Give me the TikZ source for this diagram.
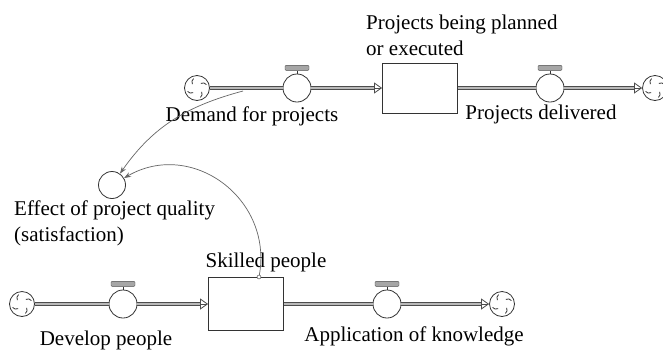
\documentclass[tikz,border=0pt]{standalone}
\usepackage{fontspec}
\setmainfont{Liberation Serif}
\usepackage{tikz}
\usetikzlibrary{arrows.meta,positioning}
\tikzstyle{stockbox} = [draw=black!80, fill=white, thick,
    rectangle, minimum width=75pt, minimum height=50pt, inner sep=0pt]
\tikzstyle{valve} = [draw=black!80, fill=white, thick, circle, minimum size=28pt, inner sep=0pt]
\tikzstyle{valvebar} = [draw=black!70, fill=gray!70, rectangle, rounded corners=1pt,
    minimum width=24pt, minimum height=5pt, inner sep=0pt]
\tikzstyle{cloud} = [draw=black!80, thick, fill=white, circle, minimum size=25pt, inner sep=0pt,
    path picture={\foreach \a in {20,110,200,290}
        {\draw[thick, shift={(path picture bounding box.center)}] (\a:10pt) to[bend right=40] (\a+30:6pt);}}]
\tikzstyle{auxvar} = [draw=black!80, thick, fill=white, circle, minimum size=27pt, inner sep=0pt]
\tikzstyle{linkdot} = [draw=black!80, fill=white, circle, minimum size=4pt, inner sep=0pt]
\tikzstyle{pipe} = [draw=gray!60!black, double=gray!55, double distance=2.4pt, line width=1pt]
\tikzstyle{flowtip} = [draw=black!70, thick, -{Triangle[open,length=8pt,width=11pt]}]
\tikzstyle{link} = [draw=gray!80!black, line width=0.7pt, -{Stealth[length=7pt,width=5pt]}]
\tikzstyle{varlabel} = [font=\fontsize{21}{26}\selectfont, inner sep=0pt]

\begin{document}
\begin{tikzpicture}[x=1pt, y=-1pt]
                \path[use as bounding box, fill=white] (0,0) rectangle (663,354);
                \node [cloud] (c1) at (197,88) {};
                \node [valve] (v1) at (297,88) {};
                \node [stockbox] (s1) at (420,88) {};
                \node [valve] (v2) at (550,88) {};
                \node [cloud] (c2) at (655,88) {};
                \node [cloud] (c3) at (22,304) {};
                \node [valve] (v3) at (123,304) {};
                \node [stockbox, minimum height=53pt] (s2) at (246,304) {};
                \node [valve] (v4) at (387,304) {};
                \node [cloud] (c4) at (502,304) {};
                \node [auxvar] (aux) at (112,185) {};
                \foreach \v in {v1,v2,v3,v4}{
                    \node [valvebar, above=3pt of \v] (\v bar) {};
                    \draw [thick, black!80] (\v.north) -- (\v bar.south);
                }
                \draw [pipe] (c1) -- (v1);
                \draw [pipe, shorten >=8pt] (v1) -- (s1);
                \draw [flowtip] ([xshift=-1pt]s1.west) -- (s1.west);
                \draw [pipe] (s1) -- (v2);
                \draw [pipe, shorten >=8pt] (v2) -- (c2);
                \draw [flowtip] ([xshift=-1pt]c2.west) -- (c2.west);
                \draw [pipe] (c3) -- (v3);
                \draw [pipe, shorten >=8pt] (v3) -- (s2);
                \draw [flowtip] ([xshift=-1pt]s2.west) -- (s2.west);
                \draw [pipe] (s2) -- (v4);
                \draw [pipe, shorten >=8pt] (v4) -- (c4);
                \draw [flowtip] ([xshift=-1pt]c4.west) -- (c4.west);
                \node [varlabel] (demandlbl) at (252,116) {Demand for projects};
                \node [varlabel] (deliveredlbl) at (541,114) {Projects delivered};
                \node [varlabel, anchor=west, align=left] (projectslbl) at (366,35) {Projects being planned\\or executed};
                \node [varlabel, anchor=west, align=left] (effectlbl) at (14,223) {Effect of project quality\\(satisfaction)};
                \node [varlabel] (skilledlbl) at (266,262) {Skilled people};
                \node [varlabel] (developlbl) at (106,340) {Develop people};
                \node [varlabel] (applylbl) at (414,336) {Application of knowledge};
                \coordinate (demandlink) at (243,91);
                \node [linkdot] (skilleddot) at (259,277) {};
                \draw [link] (demandlink) to[out=195, in=55] (aux);
                \draw [link] (skilleddot) to[out=80, in=30, looseness=1.2] (aux);
            \end{tikzpicture}
\end{document}
